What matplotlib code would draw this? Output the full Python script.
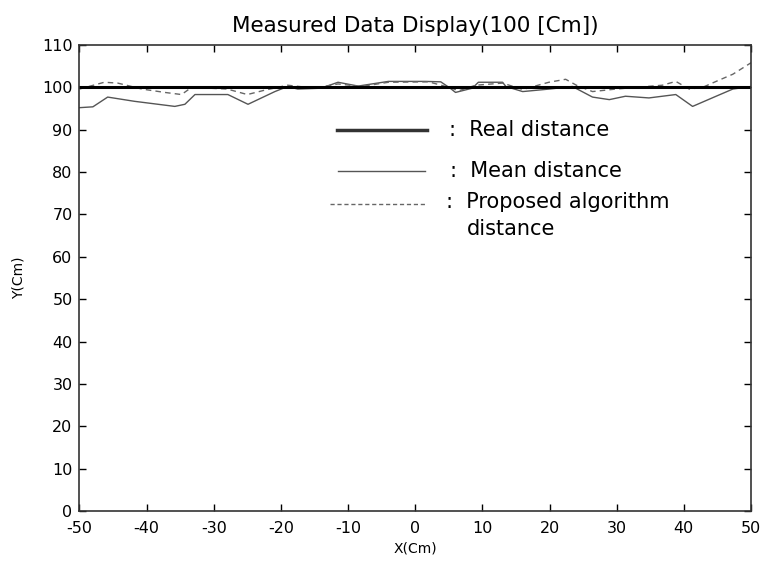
import matplotlib
matplotlib.use('Agg')
import matplotlib.pyplot as plt
import numpy as np

plt.rc('font', family='DejaVu Sans', size=11)
plt.rc('axes', unicode_minus=False)

# measured curves
x_real = [-50, 50]
y_real = [100, 100]

x_mean = [-50, -48, -45.8, -41.8, -40.3, -35.8, -34.3, -32.8, -27.9, -24.9, -20.9, -19,
          -17.5, -14, -11.5, -8.5, -4, 1.5, 3.8, 5.2, 6, 8.5, 9.4, 13, 13.5, 16,
          20, 23.4, 26.4, 28.9, 31.3, 34.8, 38.8, 41.3, 44.8, 47.3, 50]
y_mean = [95.2, 95.4, 97.7, 96.7, 96.4, 95.5, 96.0, 98.3, 98.3, 96.0, 99.0, 100.2,
          99.6, 99.8, 101.2, 100.3, 101.4, 101.4, 101.3, 99.8, 98.8, 99.8, 101.2, 101.2, 100.2, 99.0,
          99.6, 100.2, 97.7, 97.1, 97.9, 97.5, 98.3, 95.5, 97.9, 99.6, 100.2]

x_prop = [-50, -46.3, -44.3, -40.7, -37.3, -34.8, -33.3, -28, -25, -22.5, -19,
          -15, -11.5, -8, -4, 2, 5, 6.5, 9, 13, 16,
          19.9, 22.4, 24, 26.4, 29.9, 36.8, 38.8, 40.8, 42.8, 44.8, 47.3, 50]
y_prop = [99.6, 101.2, 101.0, 99.6, 98.8, 98.3, 100.0, 99.6, 98.3, 99.3, 100.5,
          99.8, 100.8, 100.2, 101.2, 101.3, 100.0, 99.2, 100.5, 101.0, 99.5,
          101.2, 101.9, 100.5, 99.0, 99.6, 100.5, 101.4, 99.6, 100.0, 101.4, 103.1, 105.8]

fig = plt.figure(figsize=(7.64, 5.65), dpi=100)
ax = fig.add_axes([0.104, 0.0956, 0.879, 0.8248])

ax.plot(x_mean, y_mean, color='#555555', lw=1.0)
ax.plot(x_prop, y_prop, color='#666666', lw=1.0, ls=(0, (4, 3)))
ax.plot(x_real, y_real, color='black', lw=2.2)

ax.set_xlim(-50, 50)
ax.set_ylim(0, 110)
ax.set_xticks(np.arange(-50, 51, 10))
ax.set_yticks(np.arange(0, 111, 10))
ax.tick_params(direction='in', top=True, right=True, length=5, width=1, labelsize=11.5)
ax.tick_params(axis='x', pad=7)
ax.tick_params(axis='y', pad=5)
for s in ax.spines.values():
    s.set_color('#333333')
    s.set_linewidth(1.2)

ax.set_title('Measured Data Display(100 [Cm])', fontsize=15.5, pad=9)
ax.set_xlabel('X(Cm)', fontsize=10, labelpad=4)
ax.set_ylabel('Y(Cm)', fontsize=10, labelpad=12)

# hand-drawn legend as in the original
fs = 15
ax.plot([0.383, 0.518], [0.818, 0.818], transform=ax.transAxes, color='#333333', lw=2.5)
ax.plot([0.385, 0.515], [0.729, 0.729], transform=ax.transAxes, color='#555555', lw=1.0)
ax.plot([0.373, 0.515], [0.658, 0.658], transform=ax.transAxes, color='#666666', lw=1.0,
        ls=(0, (3, 2)))
ax.text(0.55, 0.818, ':  Real distance', transform=ax.transAxes, va='center', fontsize=fs)
ax.text(0.552, 0.729, ':  Mean distance', transform=ax.transAxes, va='center', fontsize=fs)
ax.text(0.546, 0.663, ':  Proposed algorithm', transform=ax.transAxes, va='center', fontsize=fs)
ax.text(0.577, 0.605, 'distance', transform=ax.transAxes, va='center', fontsize=fs)

fig.savefig('out.png', dpi=100)
